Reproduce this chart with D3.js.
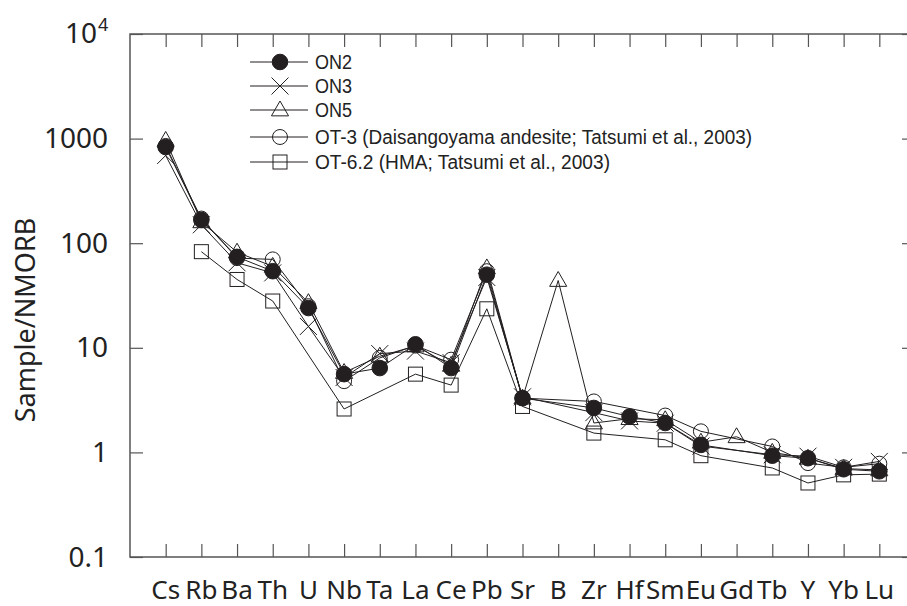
<!DOCTYPE html>
<html><head><meta charset="utf-8">
<script src="https://cdn.jsdelivr.net/npm/d3@7"></script>
<style>
html,body{margin:0;padding:0;background:#fff;}
svg{display:block;font-family:"Noto Sans","Liberation Sans",sans-serif;}
</style></head>
<body><svg id="c" width="907" height="606"></svg>
<script>
const elements = ["Cs","Rb","Ba","Th","U","Nb","Ta","La","Ce","Pb","Sr","B","Zr","Hf","Sm","Eu","Gd","Tb","Y","Yb","Lu"];
const ON2  = [830,167,74,54,24,5.6,6.4,10.8,6.4,50,3.3,null,2.66,2.2,1.91,1.18,null,0.93,0.88,0.69,0.66];
const ON3  = [690,150,65,52,16,5.2,8.8,9.3,7.2,47,3.4,null,2.4,2.0,1.9,1.15,null,0.95,0.92,0.72,0.82];
const ON5  = [960,160,82,60,27,5.8,8.3,10.4,6.8,58,3.3,44,1.91,2.1,2.05,1.25,1.41,1.0,0.88,0.7,0.68];
const OT3  = [850,172,72,70,25,4.8,8.0,10.5,7.7,54,3.3,null,3.07,null,2.25,1.59,null,1.14,0.79,0.72,0.78];
const OT62 = [null,83,45,28,null,2.6,null,5.6,4.4,23.6,2.75,null,1.53,null,1.32,0.93,null,0.71,0.51,0.61,0.62];
const yTicks = [0.1,1,10,100,1000,10000];
const yTickLabels = ["0.1","1","10","100","1000","10^4"];
const seriesNames = ["ON2","ON3","ON5","OT-3 (Daisangoyama andesite; Tatsumi et al., 2003)","OT-6.2 (HMA; Tatsumi et al., 2003)"];
const seriesValues = [ON2, ON3, ON5, OT3, OT62];
const seriesMarkers = ["filled","cross","triangle","circle","square"];

const svg = d3.select("#c");
const L = 130, R = 915, T = 34, B = 557;
const x = d3.scaleLinear().domain([-1, elements.length]).range([L, R]);
const y = d3.scaleLog().domain([0.1, 10000]).range([B, T]);
const ink = "#231f20", axisCol = "#555";

// frame
svg.append("rect").attr("x", L).attr("y", T).attr("width", R - L).attr("height", B - T)
  .attr("fill", "none").attr("stroke", axisCol).attr("stroke-width", 1.5);

// axes with inward ticks
const tk = 13;
svg.append("g").attr("transform", `translate(0,${B})`)
  .call(d3.axisTop(x).tickValues(d3.range(elements.length)).tickSize(tk).tickFormat(""))
  .call(g => { g.select(".domain").remove(); g.selectAll("line").attr("stroke", axisCol).attr("stroke-width", 1.2); });
svg.append("g").attr("transform", `translate(0,${T})`)
  .call(d3.axisBottom(x).tickValues(d3.range(elements.length)).tickSize(tk).tickFormat(""))
  .call(g => { g.select(".domain").remove(); g.selectAll("line").attr("stroke", axisCol).attr("stroke-width", 1.2); });
svg.append("g").attr("transform", `translate(${L},0)`)
  .call(d3.axisRight(y).tickValues(yTicks).tickSize(tk).tickFormat(""))
  .call(g => { g.select(".domain").remove(); g.selectAll("line").attr("stroke", axisCol).attr("stroke-width", 1.2); });
svg.append("g").attr("transform", `translate(${R},0)`)
  .call(d3.axisLeft(y).tickValues(yTicks).tickSize(tk).tickFormat(""))
  .call(g => { g.select(".domain").remove(); g.selectAll("line").attr("stroke", axisCol).attr("stroke-width", 1.2); });

// y tick labels
yTicks.forEach((v, i) => {
  const lab = yTickLabels[i];
  if (lab.indexOf("^") >= 0) {
    const [base, exp] = lab.split("^");
    svg.append("text").attr("x", 97).attr("y", y(v) + 1).attr("text-anchor", "end")
      .attr("dominant-baseline", "middle").attr("font-size", 28).attr("fill", "#222").text(base);
    svg.append("text").attr("x", 98).attr("y", y(v) - 8).attr("text-anchor", "start")
      .attr("dominant-baseline", "middle").attr("font-size", 18).attr("fill", "#222").text(exp);
  } else {
    svg.append("text").attr("x", 108).attr("y", y(v) + 2).attr("text-anchor", "end")
      .attr("dominant-baseline", "middle").attr("font-size", 28).attr("fill", "#222").text(lab);
  }
});

// x labels
svg.append("g").selectAll("text").data(elements).join("text")
  .attr("x", (d, i) => x(i)).attr("y", 599).attr("text-anchor", "middle")
  .attr("font-size", 26).attr("fill", "#222").text(d => d);

// y title
svg.append("text").attr("transform", `translate(35,320) rotate(-90)`).attr("text-anchor", "middle")
  .attr("font-size", 27).attr("fill", "#222").text("Sample/NMORB");

// marker drawing
function marker(g, type, cx, cy) {
  if (type === "filled") {
    g.append("circle").attr("cx", cx).attr("cy", cy).attr("r", 7.8).attr("fill", ink).attr("stroke", ink);
  } else if (type === "circle") {
    g.append("circle").attr("cx", cx).attr("cy", cy).attr("r", 7.5).attr("fill", "none").attr("stroke", ink).attr("stroke-width", 1);
  } else if (type === "square") {
    g.append("rect").attr("x", cx - 7).attr("y", cy - 7).attr("width", 14).attr("height", 14)
      .attr("fill", "none").attr("stroke", ink).attr("stroke-width", 1);
  } else if (type === "triangle") {
    const s = 9;
    g.append("path").attr("d", `M${cx},${cy - s}L${cx + s * 0.95},${cy + s * 0.65}L${cx - s * 0.95},${cy + s * 0.65}Z`)
      .attr("fill", "none").attr("stroke", ink).attr("stroke-width", 1);
  } else if (type === "cross") {
    const s = 8.5;
    g.append("path").attr("d", `M${cx - s},${cy - s}L${cx + s},${cy + s}M${cx - s},${cy + s}L${cx + s},${cy - s}`)
      .attr("fill", "none").attr("stroke", ink).attr("stroke-width", 1);
  }
}

const line = d3.line().x(d => x(d.i)).y(d => y(d.v));
const pts = seriesValues.map(vals => vals.map((v, i) => ({ i, v })).filter(d => d.v != null));

const gl = svg.append("g");
pts.forEach(p => gl.append("path").attr("d", line(p)).attr("fill", "none").attr("stroke", ink).attr("stroke-width", 1));

const gm = svg.append("g");
[4, 3, 2, 0, 1].forEach(si => {
  pts[si].forEach(d => marker(gm, seriesMarkers[si], x(d.i), y(d.v)));
});

// legend
const legY = [62, 86, 110, 137, 162];
const legW = [37, 37, 37, 437, 295];
const lg = svg.append("g");
seriesNames.forEach((name, i) => {
  lg.append("line").attr("x1", 250).attr("x2", 308).attr("y1", legY[i]).attr("y2", legY[i])
    .attr("stroke", ink).attr("stroke-width", 1);
  marker(lg, seriesMarkers[i], 280, legY[i]);
  lg.append("text").attr("x", 315).attr("y", legY[i] + 7).attr("font-family", "'Liberation Sans', Arial, sans-serif")
    .attr("font-size", 20).attr("fill", "#222")
    .attr("textLength", legW[i]).attr("lengthAdjust", "spacingAndGlyphs").text(name);
});
</script></body></html>
